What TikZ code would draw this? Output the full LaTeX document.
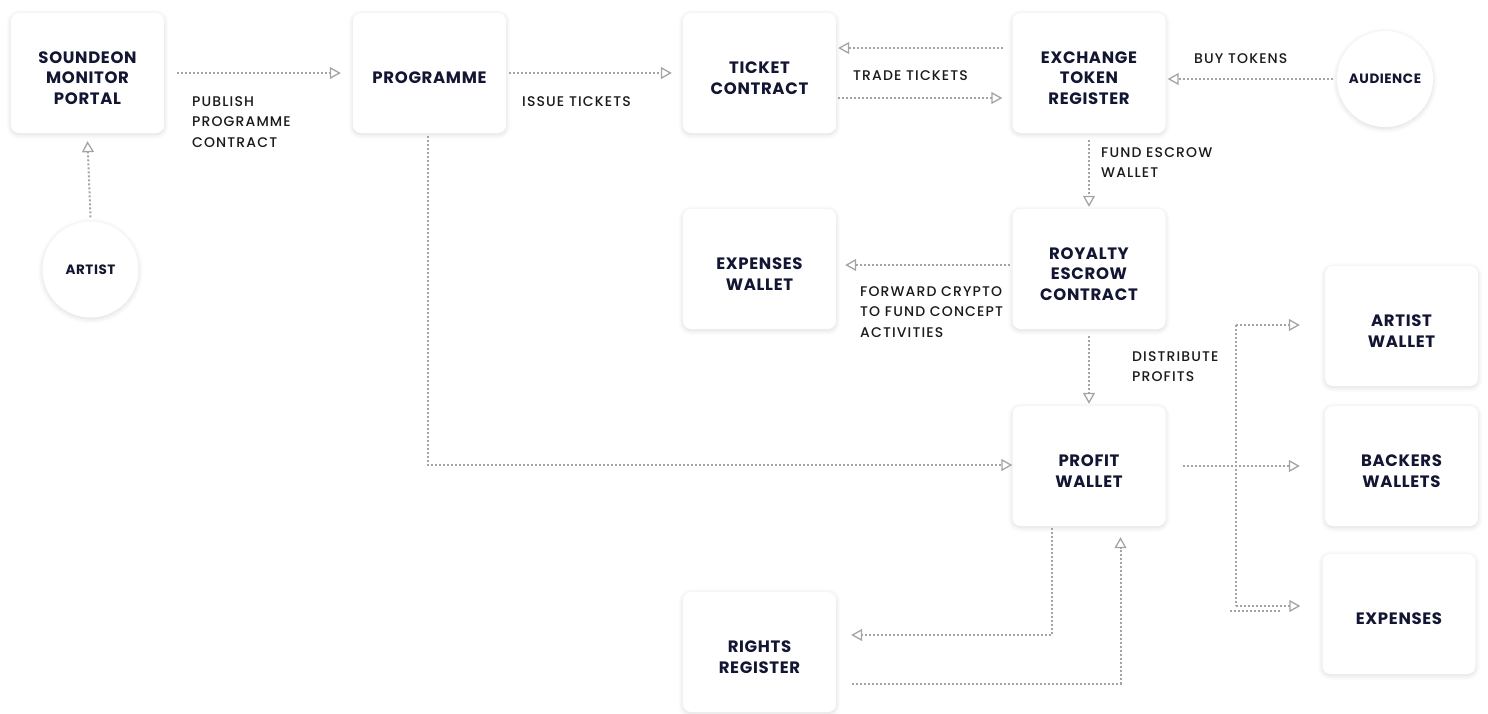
\documentclass[tikz,border=0pt]{standalone}
\usepackage{fontspec}
\setmainfont{Poppins}
\newfontfamily\boxfont{Poppins}[LetterSpace=4]
\newfontfamily\labfont{Poppins Medium}[LetterSpace=8]
\usetikzlibrary{arrows.meta,shadows.blur}
\definecolor{navy}{HTML}{121632}
\definecolor{lbl}{HTML}{1A1A1A}
\definecolor{lgrey}{HTML}{A4A4A4}
\newcommand{\fl}{\rule{0pt}{22pt}}
\tikzset{
  softshadow/.style={blur shadow={shadow xshift=0pt, shadow yshift=-1.5pt, shadow blur radius=5pt, shadow opacity=14, shadow blur steps=10}},
  box/.style={rectangle, rounded corners=8pt, fill=white, minimum width=153pt, minimum height=120pt, inner sep=0pt, align=center, text=navy, font=\boxfont\bfseries\fontsize{16.5}{20.5}\selectfont, softshadow},
  circ/.style={circle, fill=white, minimum size=96pt, inner sep=0pt, align=center, text=navy, font=\boxfont\bfseries\fontsize{13.5}{16}\selectfont, softshadow},
  lab/.style={anchor=north west, inner sep=0pt, align=left, text=lbl, font=\labfont\fontsize{14}{20.5}\selectfont},
  flowline/.style={draw=lgrey, line width=2pt, dash pattern=on 2pt off 2pt},
  flow/.style={flowline, -{Triangle[open, length=11pt, width=12pt, line width=1.3pt]}},
}
\begin{document}
\begin{tikzpicture}[x=1pt,y=-1pt]
\useasboundingbox (0,0) rectangle (1488,713);
% nodes
\node[box] (sp) at (87.5,73) {\fl SOUNDEON\\MONITOR\\PORTAL};
\node[box] (prog) at (429.5,73) {\fl PROGRAMME};
\node[box] (ticket) at (759.5,73) {\fl TICKET\\CONTRACT};
\node[box] (ex) at (1089,73) {\fl EXCHANGE\\TOKEN\\REGISTER};
\node[circ] (aud) at (1385,79) {AUDIENCE};
\node[circ] (artist) at (90.5,269.5) {ARTIST};
\node[box] (expw) at (759.5,269) {\fl EXPENSES\\WALLET};
\node[box] (roy) at (1089,269) {\fl ROYALTY\\ESCROW\\CONTRACT};
\node[box] (aw) at (1401.5,326) {\fl ARTIST\\WALLET};
\node[box] (profit) at (1089,466) {\fl PROFIT\\WALLET};
\node[box] (back) at (1401.5,466) {\fl BACKERS\\WALLETS};
\node[box] (exp) at (1399,614) {\fl EXPENSES};
\node[box] (rights) at (759.5,652) {\fl RIGHTS\\REGISTER};
% junction coordinates
\coordinate (jt) at (1236,325);
\coordinate (jb) at (1236,606);
\coordinate (st1) at (1230,611);
\coordinate (st2) at (1280,611);
% connectors
\draw[flow] ([xshift=13pt]sp.east) -- ([xshift=-12pt]prog.west);
\draw[flow] ([yshift=4pt]artist.north) -- ([yshift=-8pt]sp.south);
\draw[flow] ([xshift=3pt]prog.east) -- ([xshift=-11pt]ticket.west);
\draw[flow] ([xshift=-9pt,yshift=25pt]ex.west) -- ([xshift=2pt,yshift=25pt]ticket.east);
\draw[flow] ([xshift=2pt,yshift=-25pt]ticket.east) -- ([xshift=-10pt,yshift=-25pt]ex.west);
\draw[flow] ([xshift=-4pt]aud.west) -- ([xshift=2pt]aud.west -| ex.east);
\draw[flow] ([yshift=-7pt]ex.south) -- ([yshift=2pt]roy.north);
\draw[flow] ([xshift=-2pt,yshift=4pt]roy.west) -- ([xshift=9pt,yshift=4pt]expw.east);
\draw[flow] ([yshift=-7pt]roy.south) -- ([yshift=2pt]profit.north);
\draw[flow] ([xshift=-1.5pt,yshift=-3pt]prog.south) |- ([yshift=1pt]profit.west);
\draw[flow] ([xshift=17pt]profit.east) -- ([xshift=-25pt]back.west);
\draw[flowline] (jt) -- (jb);
\draw[flow] (jt) -- ([xshift=-25pt]jt -| aw.west);
\draw[flow] (jb) -- ([xshift=-22pt]jb -| exp.west);
\draw[flowline] (st1) -- (st2);
\draw[flow] ([xshift=-37pt,yshift=-2pt]profit.south) |- ([xshift=15pt,yshift=17pt]rights.east);
\draw[flow] ([xshift=16pt,yshift=-32pt]rights.east) -| ([xshift=31.5pt,yshift=-11pt]profit.south);
% labels
\node[lab] (l1) at (192,96) {PUBLISH\\PROGRAMME\\CONTRACT};
\node[lab] (l2) at (522,96) {ISSUE TICKETS};
\node[lab] (l3) at (853,70) {TRADE TICKETS};
\node[lab] (l4) at (1194,53) {BUY TOKENS};
\node[lab] (l5) at (1101,147) {FUND ESCROW\\WALLET};
\node[lab] (l6) at (860,286) {FORWARD CRYPTO\\TO FUND CONCEPT\\ACTIVITIES};
\node[lab] (l7) at (1132,351) {DISTRIBUTE\\PROFITS};
\end{tikzpicture}
\end{document}
